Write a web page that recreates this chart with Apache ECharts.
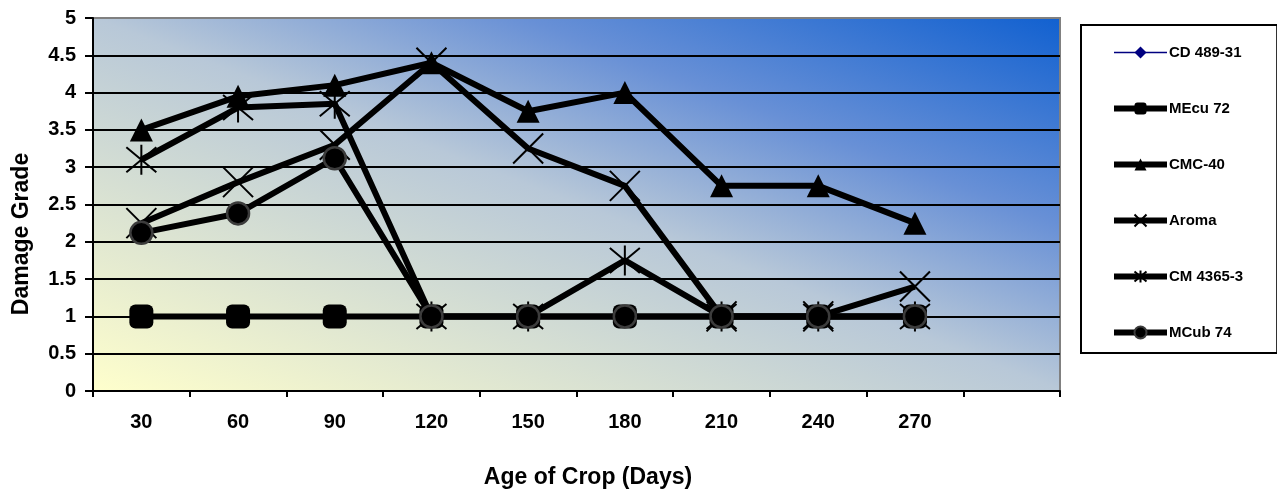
<!DOCTYPE html>
<html>
<head>
<meta charset="utf-8">
<script src="https://cdn.jsdelivr.net/npm/echarts@6/dist/echarts.min.js"></script>
<style>
  html, body { margin: 0; padding: 0; background: #ffffff; }
  #chart { width: 1277px; height: 493px; }
</style>
</head>
<body>
<div id="chart"></div>
<script>
// Age of crop (days); the last slot is an empty category
const ageDays = ['30', '60', '90', '120', '150', '180', '210', '240', '270', ''];

// Damage grade per variety
const cd48931  = [1, 1, 1, 1, 1, 1, 1, 1, 1];
const mecu72   = [1, 1, 1, 1, 1, 1, 1, 1, 1];
const cmc40    = [3.5, 3.95, 4.1, 4.4, 3.75, 4, 2.75, 2.75, 2.25];
const aroma    = [2.25, 2.8, 3.3, 4.4, 3.25, 2.75, 1, 1, 1.4];
const cm43653  = [3.1, 3.8, 3.85, 1, 1, 1.75, 1, 1, 1];
const mcub74   = [2.12, 2.38, 3.12, 1, 1, 1, 1, 1, 1];

const FONT = '"Liberation Sans", Arial, sans-serif';
const X_PATH = 'path://M0 0L20 20M20 0L0 20';
const STAR_PATH = 'path://M0 0L20 20M20 0L0 20M10 -2L10 22';

const thick = { color: '#000', width: 6 };
const strokeMark = { color: 'rgba(0,0,0,0)', borderColor: '#000', borderWidth: 2 };

const chart = echarts.init(document.getElementById('chart'));

chart.setOption({
  animation: false,
  backgroundColor: '#ffffff',
  textStyle: { fontFamily: FONT },
  grid: {
    left: 93, right: 217, top: 18, bottom: 102,
    show: true,
    borderColor: '#808080',
    borderWidth: 2,
    backgroundColor: new echarts.graphic.LinearGradient(0, 1, 0.259, -0.741, [
      { offset: 0, color: '#ffffcc' },
      { offset: 0.5, color: '#b8c8d8' },
      { offset: 0.72, color: '#6890d6' },
      { offset: 1, color: '#1060d0' }
    ])
  },
  legend: {
    orient: 'vertical',
    left: 1081,
    top: 25,
    padding: [20, 34, 13, 30],
    itemWidth: 53,
    itemHeight: 15,
    itemGap: 41,
    borderColor: '#000',
    borderWidth: 2,
    backgroundColor: '#ffffff',
    textStyle: { fontFamily: FONT, fontWeight: 'bold', fontSize: 15, color: '#000', padding: [0, 0, 0, -3] },
    lineStyle: { width: 'inherit' },
    data: ['CD 489-31', 'MEcu 72', 'CMC-40', 'Aroma', 'CM 4365-3', 'MCub 74']
  },
  xAxis: {
    type: 'category',
    data: ageDays,
    boundaryGap: true,
    axisLine: { lineStyle: { color: '#000', width: 2 } },
    axisTick: { show: true, length: 6, lineStyle: { color: '#000', width: 2 } },
    axisLabel: { color: '#000', fontFamily: FONT, fontWeight: 'bold', fontSize: 20, margin: 21 },
    splitLine: { show: false }
  },
  yAxis: {
    type: 'value',
    min: 0, max: 5, interval: 0.5,
    axisLine: { show: true, lineStyle: { color: '#000', width: 2 } },
    axisTick: { show: true, length: 8, lineStyle: { color: '#000', width: 2 } },
    axisLabel: { color: '#000', fontFamily: FONT, fontWeight: 'bold', fontSize: 20, margin: 17 },
    splitLine: {
      show: true,
      lineStyle: {
        width: 2,
        color: ['#000', '#000', '#000', '#000', '#000', '#000', '#000', '#000', '#000', '#000', '#808080']
      }
    }
  },
  graphic: [
    {
      type: 'text',
      x: 22, y: 234, rotation: Math.PI / 2,
      style: { text: 'Damage Grade', font: 'bold 23px ' + FONT, fill: '#000', align: 'center', verticalAlign: 'middle' }
    },
    {
      type: 'text',
      x: 588, y: 478,
      style: { text: 'Age of Crop (Days)', font: 'bold 23px ' + FONT, fill: '#000', align: 'center', verticalAlign: 'middle' }
    }
  ],
  series: [
    {
      name: 'CD 489-31', type: 'line', data: cd48931,
      symbol: 'diamond', symbolSize: 12,
      lineStyle: { color: '#000080', width: 1.5 },
      itemStyle: { color: '#000080' }
    },
    {
      name: 'MEcu 72', type: 'line', data: mecu72,
      symbol: 'roundRect', symbolSize: 24,
      lineStyle: thick,
      itemStyle: { color: '#000' }
    },
    {
      name: 'CMC-40', type: 'line', data: cmc40,
      symbol: 'triangle', symbolSize: 23,
      lineStyle: thick,
      itemStyle: { color: '#000' }
    },
    {
      name: 'Aroma', type: 'line', data: aroma,
      symbol: X_PATH, symbolSize: 30,
      lineStyle: thick,
      itemStyle: strokeMark
    },
    {
      name: 'CM 4365-3', type: 'line', data: cm43653,
      symbol: STAR_PATH, symbolSize: 30,
      lineStyle: thick,
      itemStyle: strokeMark
    },
    {
      name: 'MCub 74', type: 'line', data: mcub74,
      symbol: 'circle', symbolSize: 22,
      lineStyle: thick,
      itemStyle: { color: '#000', borderColor: '#3c3c3c', borderWidth: 2.5 }
    }
  ]
});
</script>
</body>
</html>
